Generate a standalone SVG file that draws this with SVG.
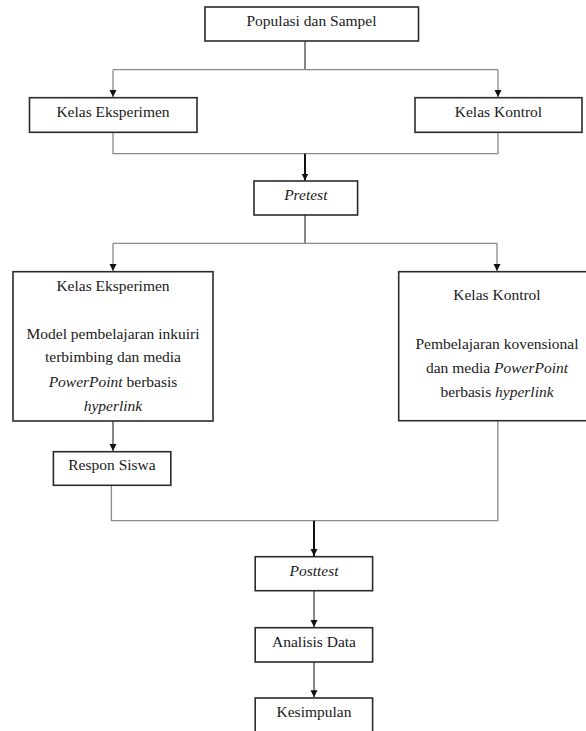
<svg xmlns="http://www.w3.org/2000/svg" width="586" height="731" viewBox="0 0 586 731">
<style>
.box{fill:#fff;stroke:#2b2b2b;stroke-width:1.6}
.t{font-family:"Liberation Serif","Times New Roman",serif;font-size:15.5px;fill:#1a1a1a;text-anchor:middle}
.i{font-style:italic}
.g{fill:none;stroke:#8a8a8a;stroke-width:1.3}
.d{fill:none;stroke:#555;stroke-width:1.4}
.k{fill:none;stroke:#111;stroke-width:2}
</style>
<defs>
<marker id="ah" markerUnits="userSpaceOnUse" markerWidth="8" markerHeight="8" refX="7" refY="4" orient="auto">
<path d="M0,0.5 L7,4 L0,7.5 Z" fill="#111"/>
</marker>
</defs>
<rect width="586" height="731" fill="#fff"/>
<g id="connectors">
<path class="d" d="M305,40.7 V69.7"/>
<path class="g" d="M113,69.7 H498"/>
<path class="g" d="M113,69.7 V97" marker-end="url(#ah)"/>
<path class="g" d="M498,69.7 V97" marker-end="url(#ah)"/>
<path class="g" d="M113,132.3 V153.7 H498 V132.3"/>
<path class="k" d="M305,153.7 V180.5" marker-end="url(#ah)"/>
<path class="d" d="M305,215 V243.3"/>
<path class="g" d="M113,243.3 H497"/>
<path class="g" d="M113,243.3 V271" marker-end="url(#ah)"/>
<path class="g" d="M497,243.3 V271" marker-end="url(#ah)"/>
<path class="d" d="M113,421 V451" marker-end="url(#ah)"/>
<path class="g" d="M111.4,485.3 V520.7 H497.8 V421"/>
<path class="k" d="M314,520.7 V556" marker-end="url(#ah)"/>
<path class="d" d="M314,590.7 V627" marker-end="url(#ah)"/>
<path class="d" d="M314,662 V697.3" marker-end="url(#ah)"/>
</g>
<g id="populasi">
<rect class="box" x="205" y="7" width="213.5" height="34"/>
<text class="t" x="311.5" y="26">Populasi dan Sampel</text>
</g>
<g id="kelas-eksperimen-1">
<rect class="box" x="29.5" y="97.7" width="167.5" height="34.6"/>
<text class="t" x="113" y="117">Kelas Eksperimen</text>
</g>
<g id="kelas-kontrol-1">
<rect class="box" x="415" y="97.7" width="167" height="34.6"/>
<text class="t" x="498.5" y="117">Kelas Kontrol</text>
</g>
<g id="pretest">
<rect class="box" x="254" y="181" width="103.6" height="34"/>
<text class="t i" x="305.8" y="200">Pretest</text>
</g>
<g id="kelas-eksperimen-2">
<rect class="box" x="13" y="271.7" width="200" height="149.3"/>
<text class="t" x="113" y="291">Kelas Eksperimen</text>
<text class="t" x="113" y="339">Model pembelajaran inkuiri</text>
<text class="t" x="113" y="362">terbimbing dan media</text>
<text class="t" x="113" y="387"><tspan class="i">PowerPoint</tspan> berbasis</text>
<text class="t i" x="113" y="411">hyperlink</text>
</g>
<g id="kelas-kontrol-2">
<rect class="box" x="398.7" y="271.7" width="200" height="149"/>
<text class="t" x="497" y="300">Kelas Kontrol</text>
<text class="t" x="497" y="349">Pembelajaran kovensional</text>
<text class="t" x="497" y="373">dan media <tspan class="i">PowerPoint</tspan></text>
<text class="t" x="497" y="397">berbasis <tspan class="i">hyperlink</tspan></text>
</g>
<g id="respon-siswa">
<rect class="box" x="53.4" y="451.7" width="117.4" height="33.6"/>
<text class="t" x="112" y="470">Respon Siswa</text>
</g>
<g id="posttest">
<rect class="box" x="255.2" y="556.7" width="117.4" height="34"/>
<text class="t i" x="314" y="575.5">Posttest</text>
</g>
<g id="analisis-data">
<rect class="box" x="255.2" y="627.7" width="117.4" height="34.3"/>
<text class="t" x="314" y="646.7">Analisis Data</text>
</g>
<g id="kesimpulan">
<rect class="box" x="255.2" y="698" width="117.4" height="40"/>
<text class="t" x="314" y="716.7">Kesimpulan</text>
</g>
</svg>
